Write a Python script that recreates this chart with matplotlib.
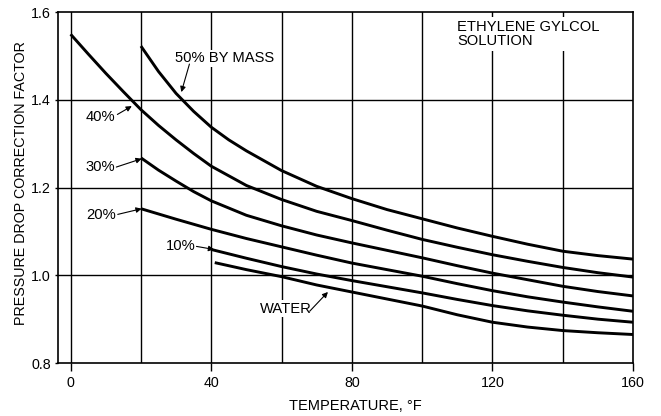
import matplotlib
matplotlib.use("Agg")
import matplotlib.pyplot as plt

plt.rcParams['font.family'] = ['Liberation Sans', 'DejaVu Sans']

# ---- data ----
temps_50 = [20, 25, 30, 35, 40, 45, 50, 60, 70, 80, 90, 100, 110, 120, 130, 140, 150, 160]
vals_50 = [1.523, 1.465, 1.415, 1.374, 1.338, 1.309, 1.284, 1.239, 1.203, 1.175, 1.150,
           1.129, 1.108, 1.089, 1.071, 1.055, 1.045, 1.037]

temps_40 = [0, 5, 10, 15, 20, 25, 30, 35, 40, 50, 60, 70, 80, 90, 100, 110, 120,
            130, 140, 150, 160]
vals_40 = [1.550, 1.505, 1.461, 1.419, 1.378, 1.342, 1.309, 1.278, 1.249, 1.205,
           1.173, 1.146, 1.125, 1.103, 1.082, 1.064, 1.047, 1.032, 1.018, 1.006, 0.996]

temps_30 = [20, 25, 30, 35, 40, 50, 60, 70, 80, 90, 100, 110, 120, 130, 140, 150, 160]
vals_30 = [1.268, 1.240, 1.215, 1.191, 1.170, 1.137, 1.113, 1.092, 1.074, 1.057,
           1.040, 1.022, 1.005, 0.990, 0.975, 0.963, 0.953]

temps_20 = [20, 30, 40, 50, 60, 70, 80, 90, 100, 110, 120, 130, 140, 150, 160]
vals_20 = [1.152, 1.128, 1.105, 1.084, 1.065, 1.046, 1.028, 1.013, 0.998, 0.981,
           0.965, 0.951, 0.939, 0.928, 0.918]

temps_10 = [40, 50, 60, 70, 80, 90, 100, 110, 120, 130, 140, 150, 160]
vals_10 = [1.059, 1.039, 1.020, 1.003, 0.988, 0.974, 0.960, 0.945, 0.931, 0.919,
           0.909, 0.900, 0.893]

temps_water = [41, 50, 60, 70, 80, 90, 100, 110, 120, 130, 140, 150, 160]
vals_water = [1.029, 1.013, 0.997, 0.978, 0.962, 0.946, 0.930, 0.910, 0.893, 0.882,
              0.874, 0.869, 0.865]

x_ticks = [0, 40, 80, 120, 160]
x_grid = [0, 20, 40, 60, 80, 100, 120, 140]
y_ticks = [0.8, 1.0, 1.2, 1.4, 1.6]
y_tick_labels = ["0.8", "1.0", "1.2", "1.4", "1.6"]
y_grid = [1.0, 1.2, 1.4]

x_label = "TEMPERATURE, \u00b0F"
y_label = "PRESSURE DROP CORRECTION FACTOR"
title_note = "ETHYLENE GYLCOL\nSOLUTION"

# ---- figure ----
fig = plt.figure(figsize=(6.61, 4.16), dpi=100)
ax = fig.add_axes([0.0877, 0.1274, 0.870, 0.843])
ax.set_xlim(-3.6, 160)
ax.set_ylim(0.8, 1.6)

for gx in x_grid:
    ax.axvline(gx, color='black', lw=1.0, zorder=1)
for gy in y_grid:
    ax.axhline(gy, color='black', lw=1.0, zorder=1)

lw = 2.1
for t, v in [(temps_50, vals_50), (temps_40, vals_40), (temps_30, vals_30),
             (temps_20, vals_20), (temps_10, vals_10), (temps_water, vals_water)]:
    ax.plot(t, v, color='black', lw=lw, solid_capstyle='butt',
            solid_joinstyle='round', zorder=3)

for s in ax.spines.values():
    s.set_linewidth(1.2)
    s.set_color('black')

ax.set_xticks(x_ticks)
ax.set_xticklabels([str(v) for v in x_ticks])
ax.set_yticks(y_ticks)
ax.set_yticklabels(y_tick_labels)
ax.tick_params(axis='x', direction='out', length=6, width=1.0, pad=3, labelsize=10.3)
ax.tick_params(axis='y', direction='out', length=2, width=1.0, pad=3, labelsize=10.3)

ax.set_xlabel(x_label, fontsize=10.5)
ax.xaxis.set_label_coords(0.517, -0.103)
ax.xaxis.label.set_va('top')
ax.set_ylabel(y_label, fontsize=10.3)
ax.yaxis.set_label_coords(-0.052, 0.512)

fs = 10.6
box = dict(facecolor='white', edgecolor='none', pad=1.0)
ap = dict(arrowstyle='-|>', color='black', lw=0.8, mutation_scale=8,
          shrinkA=0, shrinkB=0)

ax.text(110, 1.583, title_note, fontsize=fs, va='top', ha='left',
        bbox=dict(facecolor='white', edgecolor='none', pad=2.0), zorder=4,
        linespacing=1.0)

ax.text(29.6, 1.495, "50% BY MASS", fontsize=fs, va='center', ha='left', bbox=box, zorder=4)
ax.annotate("", xy=(31.5, 1.418), xytext=(33.8, 1.482), arrowprops=ap, zorder=5)

ax.text(4.3, 1.361, "40%", fontsize=fs, va='center', ha='left', zorder=4)
ax.annotate("", xy=(17.4, 1.386), xytext=(13.3, 1.367), arrowprops=ap, zorder=5)

ax.text(4.3, 1.247, "30%", fontsize=fs, va='center', ha='left', zorder=4)
ax.annotate("", xy=(20.2, 1.266), xytext=(13.0, 1.247), arrowprops=ap, zorder=5)

ax.text(4.5, 1.137, "20%", fontsize=fs, va='center', ha='left', zorder=4)
ax.annotate("", xy=(20.2, 1.152), xytext=(13.4, 1.139), arrowprops=ap, zorder=5)

ax.text(27.2, 1.066, "10%", fontsize=fs, va='center', ha='left', zorder=4)
ax.annotate("", xy=(40.8, 1.059), xytext=(35.8, 1.066), arrowprops=ap, zorder=5)

ax.text(53.8, 0.924, "WATER", fontsize=fs, va='center', ha='left', bbox=box, zorder=4)
ax.annotate("", xy=(73.2, 0.962), xytext=(68.0, 0.918), arrowprops=ap, zorder=5)

fig.savefig("out.png", dpi=100)
